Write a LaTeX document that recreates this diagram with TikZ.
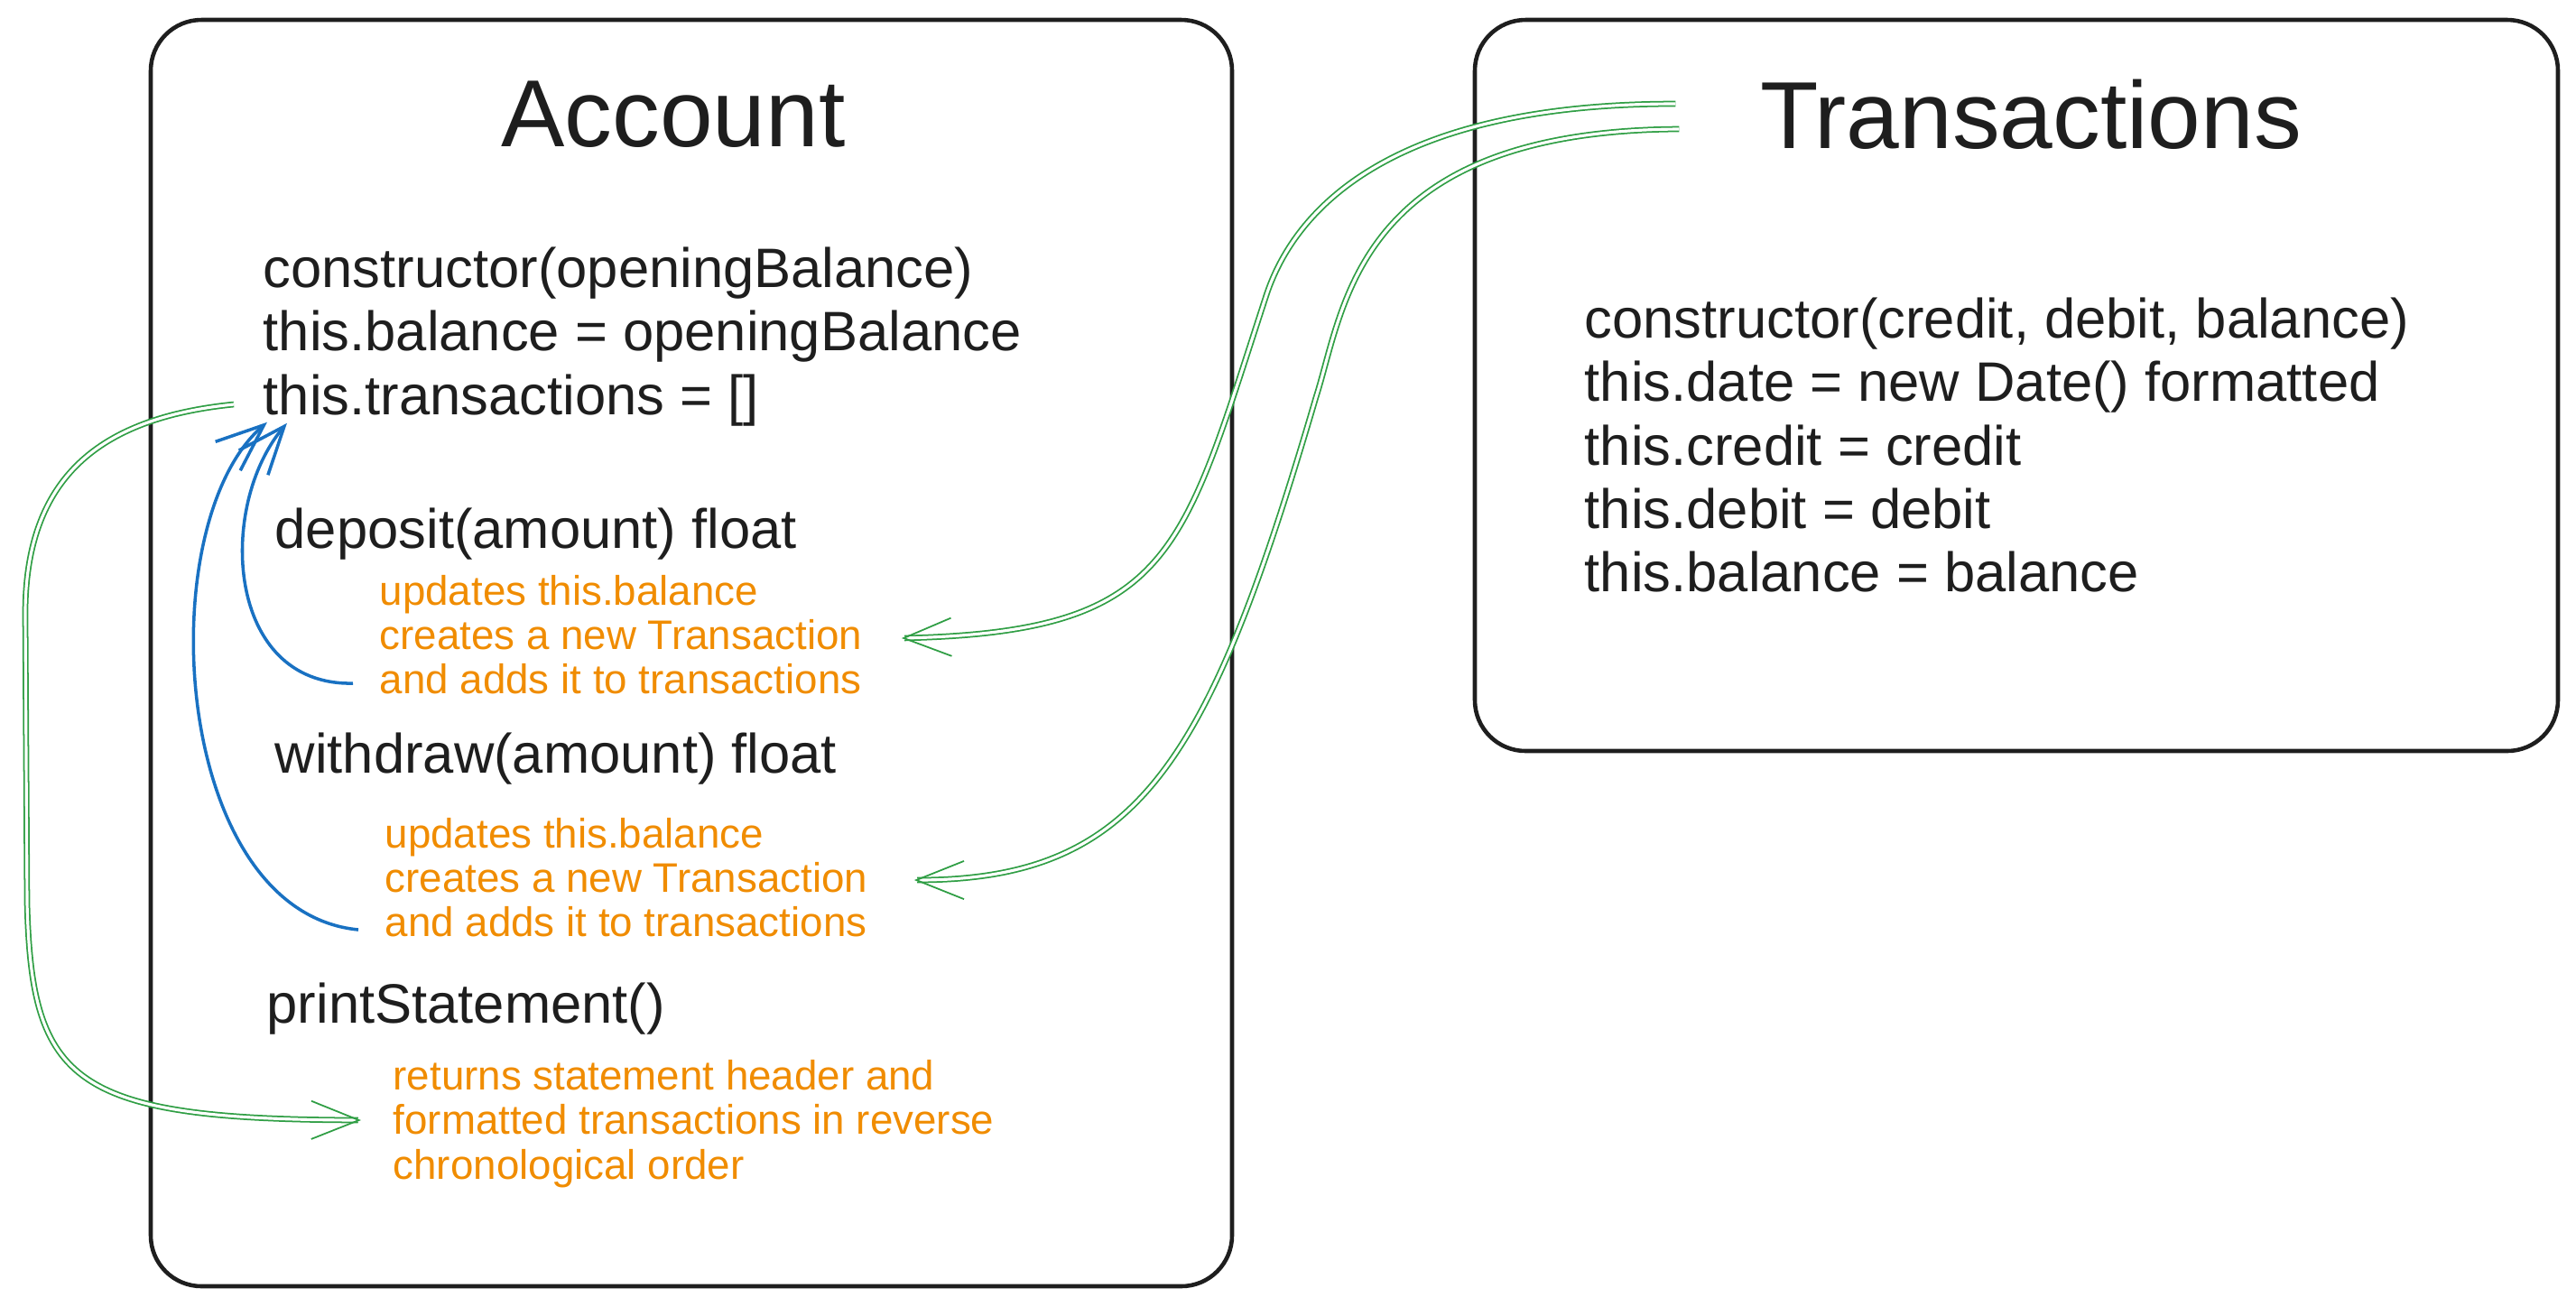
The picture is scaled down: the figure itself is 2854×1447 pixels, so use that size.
\documentclass[tikz,border=0pt]{standalone}
\usepackage{fontspec}
\setmainfont{Liberation Sans}
\usetikzlibrary{arrows.meta}
\definecolor{ink}{HTML}{1E1E1E}
\definecolor{note}{HTML}{F08C00}
\definecolor{selfref}{HTML}{1971C2}
\definecolor{link}{HTML}{2F9E44}
\begin{document}
\begin{tikzpicture}[x=0.01cm, y=-0.01cm,
  box/.style={draw=ink, line width=1.3pt, rounded corners=16pt},
  boxtitle/.style={font=\fontsize{30}{36}\selectfont, text=ink, inner sep=0pt},
  codetext/.style={font=\fontsize{17.5}{20}\selectfont, text=ink, align=left, anchor=west, inner sep=0pt},
  notetext/.style={font=\fontsize{13}{14}\selectfont, text=note, align=left, anchor=west, inner sep=0pt},
  barb/.style={-{Straight Barb[length=15pt, width=12pt]}},
  bluearr/.style={barb, draw=selfref, line width=1pt},
  greenarr/.style={barb, draw=link, line width=0.5pt, double=white, double distance=0.9pt}]
  \useasboundingbox (0,0) rectangle (2854,1447);
  \draw[box] (167,22) rectangle (1365,1425);
  \draw[box] (1634,22) rectangle (2834,832);
  \node[boxtitle] (acctTitle) at (746,127) {Account};
  \node[boxtitle] (trTitle) at (2250,127) {Transactions};
  \node[codetext] (acctCtor) at (291,373) {constructor(openingBalance)\\this.balance = openingBalance\\this.transactions = []};
  \node[codetext] (depSig) at (304,592) {deposit(amount) float};
  \node[notetext] (depNote) at (420,703) {updates this.balance\\creates a new Transaction\\and adds it to transactions};
  \node[codetext] (wdSig) at (304,841) {withdraw(amount) float};
  \node[notetext] (wdNote) at (426,972) {updates this.balance\\creates a new Transaction\\and adds it to transactions};
  \node[codetext] (printSig) at (295,1118) {printStatement()};
  \node[notetext] (printNote) at (435,1245) {returns statement header and\\formatted transactions in reverse\\chronological order};
  \node[codetext] (trCtor) at (1755,493) {constructor(credit, debit, balance)\\this.date = new Date() formatted\\this.credit = credit\\this.debit = debit\\this.balance = balance};
  \coordinate (bendA) at (1402,330);
  \coordinate (bendB) at (1458,440);
  \coordinate (sideTop) at (28,680);
  \coordinate (sideBot) at (30,1000);
  \draw[bluearr] ([shift={(-29,54)}]depNote.west) .. controls +(-141,3) and +(-78,92) .. ([shift={(27,-4)}]acctCtor.south west);
  \draw[bluearr] ([shift={(-29,58)}]wdNote.west) .. controls +(-207,-20) and +(-131,113) .. ([shift={(5,-5)}]acctCtor.south west);
  \draw[greenarr] ([shift={(-93,-12)}]trTitle.west) .. controls +(-320,0) and +(30,-95) .. (bendA)
    .. controls +(-93,285) and +(300,-7) .. ([shift={(43,4)}]depNote.east);
  \draw[greenarr] ([shift={(-89,16)}]trTitle.west) .. controls +(-359,2) and +(32,-100) .. (bendB)
    .. controls +(-118,403) and +(250,0) .. ([shift={(51,3)}]wdNote.east);
  \draw[greenarr] ([shift={(-32,75)}]acctCtor.west) .. controls +(-150,15) and +(0,-150) .. (sideTop)
    -- (sideBot) .. controls +(5,200) and +(-320,-1) .. ([shift={(-35,-4)}]printNote.west);
\end{tikzpicture}
\end{document}
